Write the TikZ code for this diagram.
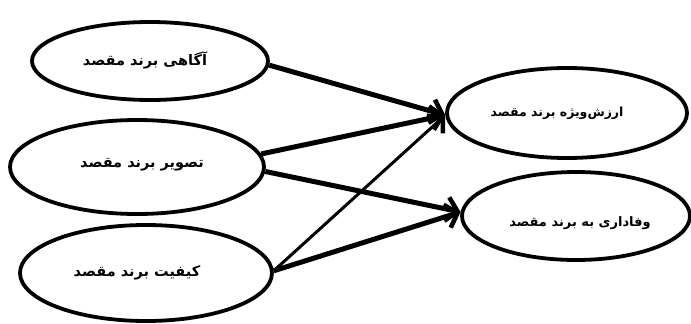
\documentclass[tikz,border=0pt]{standalone}
\usepackage{fontspec}
\usetikzlibrary{shapes.geometric,arrows.meta}
\newfontfamily\fafont[Script=Arabic]{DejaVu Sans}
\TeXXeTstate=1
\tikzset{
  oval/.style={ellipse,draw=black,line width=3.8pt,fill=white,inner sep=0pt},
  lbl/.style={font=\fafont\bfseries\fontsize{14.5}{17}\selectfont,inner sep=0pt},
  arr/.style={line width=5pt,-{Straight Barb[length=11pt,width=24pt,line width=4.5pt]}},
  thinarr/.style={line width=3pt,-{Straight Barb[length=11pt,width=24pt,line width=4.5pt]}}
}
\begin{document}
\begin{tikzpicture}[x=1pt,y=-1pt]
\useasboundingbox[fill=white] (0,0) rectangle (691,324);
\node[oval,minimum width=236pt,minimum height=78pt] (e1) at (150,61) {};
\node[oval,minimum width=254pt,minimum height=94pt] (e2) at (137,167) {};
\node[oval,minimum width=252pt,minimum height=96pt] (e3) at (146,273) {};
\node[oval,minimum width=240pt,minimum height=90pt] (e4) at (567,113) {};
\node[oval,minimum width=228pt,minimum height=88pt] (e5) at (576,216) {};
\node[lbl] (t1) at (145,60) {\beginR آگاهی برند مقصد\endR};
\node[lbl] (t2) at (142,165) {\beginR تصویر برند مقصد\endR};
\node[lbl] (t3) at (137,273) {\beginR کیفیت برند مقصد\endR};
\node[lbl,font=\fafont\bfseries\fontsize{12.5}{15}\selectfont] (t4) at (557,113) {\beginR ارزش‌ویژه برند مقصد\endR};
\node[lbl,font=\fafont\bfseries\fontsize{13}{15}\selectfont] (t5) at (580,223) {\beginR وفاداری به برند مقصد\endR};
\draw[arr] (e1.-2) -- (e4.181);
\draw[arr] (e2.6) -- (e4.181);
\draw[thinarr] (e3.1) -- (e4.181);
\draw[arr] (e2.-2) -- (e5.178);
\draw[arr] (e3.1) -- (e5.178);
\end{tikzpicture}
\end{document}
